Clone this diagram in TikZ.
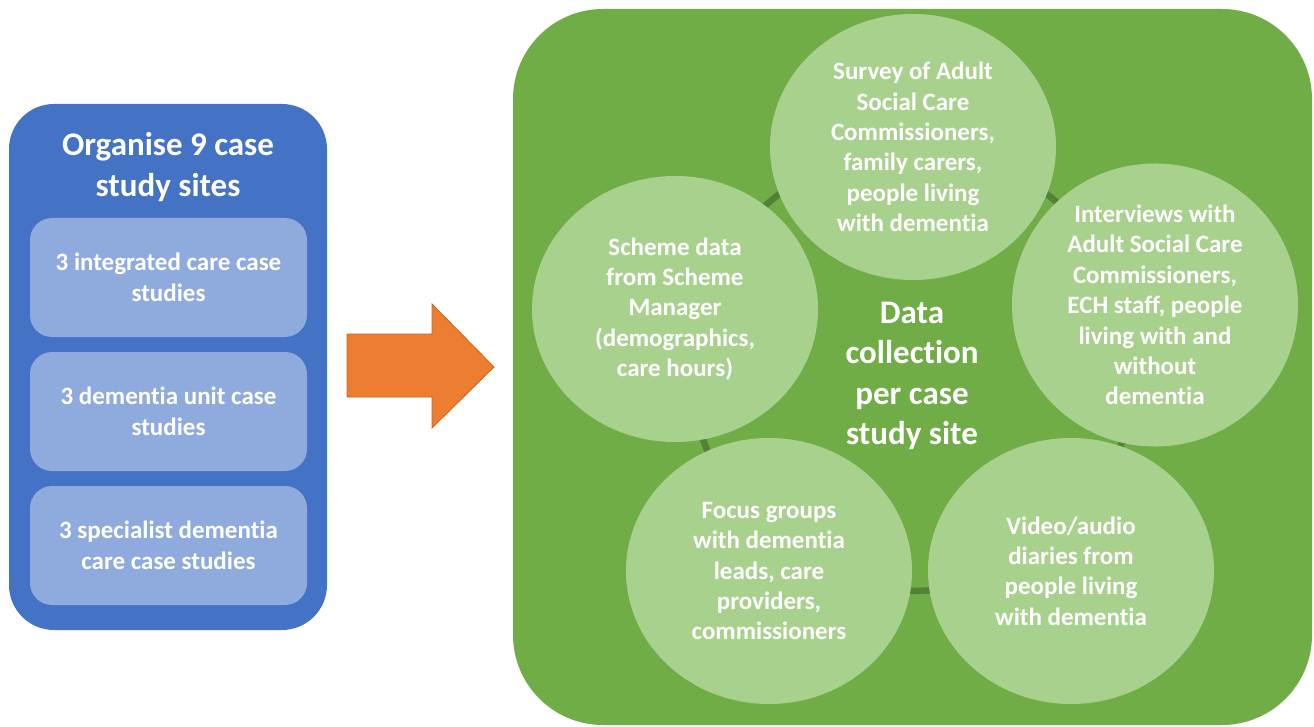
\documentclass[tikz,border=0pt]{standalone}
\usepackage{fontspec}
\setmainfont{Carlito}[Ligatures=NoCommon]
\usetikzlibrary{shapes.geometric}
\definecolor{bluebox}{HTML}{4472C4}
\definecolor{innerbox}{HTML}{8FAADC}
\definecolor{arroworange}{HTML}{ED7D31}
\definecolor{arrowedge}{HTML}{C8641F}
\definecolor{greenbox}{HTML}{70AD47}
\definecolor{lightgreen}{HTML}{A9D18E}
\definecolor{ringgreen}{HTML}{548235}
\tikzset{
  bigtext/.style={text=white, font=\bfseries\fontsize{33}{40.5}\selectfont, align=center, inner sep=0pt},
  smalltext/.style={text=white, font=\bfseries\fontsize{25}{30.4}\selectfont, align=center, inner sep=0pt},
  casebox/.style={fill=innerbox, rounded corners=22pt, minimum width=277pt, minimum height=119pt, smalltext},
  method/.style={ellipse, fill=lightgreen, minimum width=286pt, minimum height=266pt, smalltext},
}
\begin{document}
\begin{tikzpicture}[x=1pt,y=-1pt]
\useasboundingbox (0,0) rectangle (1314,727);
% left panel
\node[fill=bluebox, rounded corners=45pt, minimum width=318pt, minimum height=526pt, inner sep=0pt] (org) at (168,367) {};
\node[bigtext] (orgtitle) at (168,167) {Organise 9 case\\study sites};
\node[casebox] (c1) at (168.5,277.5) {3 integrated care case\\studies};
\node[casebox] (c2) at (168.5,411.5) {3 dementia unit case\\studies};
\node[casebox] (c3) at (168.5,545.5) {3 specialist dementia\\care case studies};
% arrow
\fill[arroworange, draw=arrowedge, line width=0.8pt]
  (347,334) -- (432,334) -- (432,304) -- (494,367) -- (432,428) -- (432,397) -- (347,397) -- cycle;
% right panel
\node[fill=greenbox, rounded corners=90pt, minimum width=799pt, minimum height=716pt, inner sep=0pt] (dc) at (912.5,367) {};
\draw[ringgreen, line width=6.5pt] (913,370) circle[radius=221];
\node[bigtext] (dctitle) at (912,376) {Data\\collection\\per case\\study site};
\node[method] (m1) at (913,147) {Survey of Adult\\Social Care\\Commissioners,\\family carers,\\people living\\with dementia};
\node[method] (m2) at (1155,305) {Interviews with\\Adult Social Care\\Commissioners,\\ECH staff, people\\living with and\\without\\dementia};
\node[method] (m3) at (1071,571) {Video/audio\\diaries from\\people living\\with dementia};
\node[method] (m4) at (769,571) {Focus groups\\with dementia\\leads, care\\providers,\\commissioners};
\node[method] (m5) at (675,309) {Scheme data\\from Scheme\\Manager\\(demographics,\\care hours)};
\end{tikzpicture}
\end{document}
